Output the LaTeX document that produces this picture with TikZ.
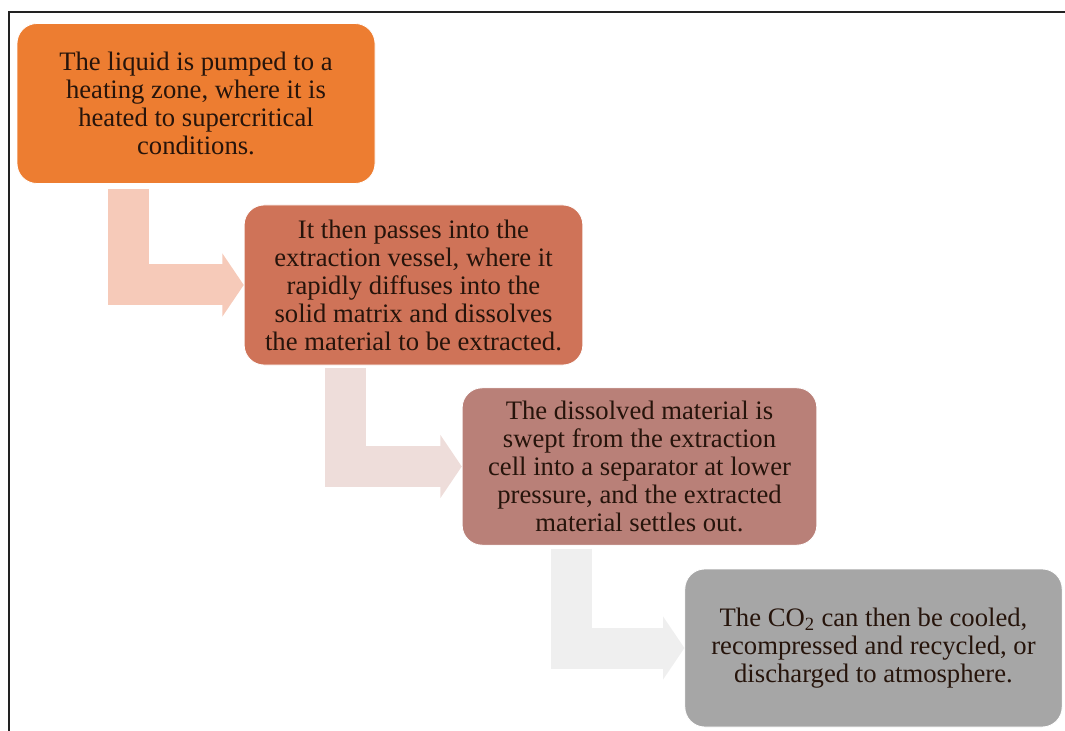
\documentclass[tikz,border=0pt]{standalone}
\usepackage{fontspec}
\setmainfont{Liberation Serif}
\usetikzlibrary{arrows.meta,calc}
\definecolor{boxorange}{HTML}{ED7D31}
\definecolor{boxrust}{HTML}{CF7358}
\definecolor{boxrose}{HTML}{B98078}
\definecolor{boxgray}{HTML}{A6A6A6}
\definecolor{flowa}{HTML}{F6CAB9}
\definecolor{flowb}{HTML}{EEDDDA}
\definecolor{flowc}{HTML}{EFEFEF}
\definecolor{textdark}{HTML}{26140B}
\definecolor{framegray}{HTML}{222222}
\begin{document}
\begin{tikzpicture}[x=0.75pt,y=-0.75pt,
    stepbox/.style={rounded corners=15pt, align=center, text=textdark,
        font=\fontsize{20}{21}\selectfont, inner sep=0pt,
        draw=white, line width=0.6pt},
    flow/.style={line width=30.75pt, -{Triangle[width=46.5pt,length=16pt]}}]
    \useasboundingbox (0,0) rectangle (1065,731);
    \draw[framegray, line width=1.9pt] (9,731) -- (9,12) -- (1065,12);
    % steps
    \node[stepbox, fill=boxorange, minimum width=268.5pt, minimum height=120pt] (heat) at (196,103.5)
        {The liquid is pumped to a\\heating zone, where it is\\heated to supercritical\\conditions.};
    \node[stepbox, fill=boxrust, minimum width=254pt, minimum height=120pt] (vessel) at (413.5,285)
        {It then passes into the\\extraction vessel, where it\\rapidly diffuses into the\\solid matrix and dissolves\\the material to be extracted.};
    \node[stepbox, fill=boxrose, minimum width=266pt, minimum height=118pt] (separator) at (639.5,466.5)
        {The dissolved material is\\swept from the extraction\\cell into a separator at lower\\pressure, and the extracted\\material settles out.};
    \node[stepbox, fill=boxgray, minimum width=283pt, minimum height=118.5pt] (recycle) at (873.5,648)
        {The CO\textsubscript{2} can then be cooled,\\recompressed and recycled, or\\discharged to atmosphere.};
    % bent arrows
    \draw[flow, flowa] ($(heat.south west)+(112,5)$) |- (vessel.west);
    \draw[flow, flowb] ($(vessel.south west)+(102,3)$) |- (separator.west);
    \draw[flow, flowc] ($(separator.south west)+(110,3)$) |- (recycle.west);
\end{tikzpicture}
\end{document}
